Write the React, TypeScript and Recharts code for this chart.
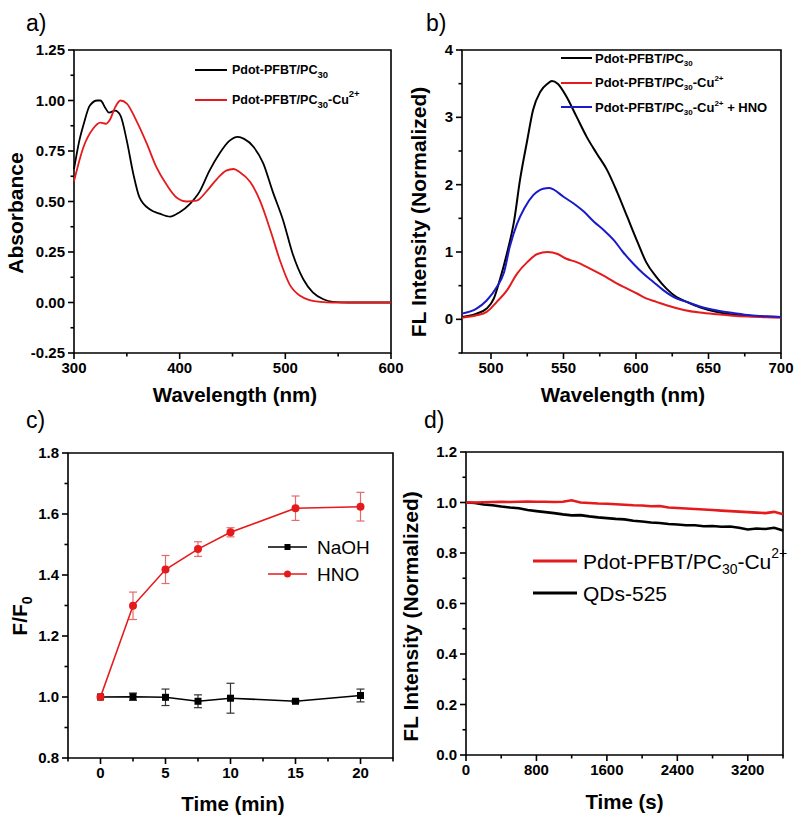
import React from 'react';
import { LineChart, Line, XAxis, YAxis, ReferenceArea, Legend, ErrorBar } from 'recharts';

const FONT = '"Liberation Sans", Arial, Helvetica, sans-serif';
const RED = '#e41a1c';
const BLUE = '#1a1ac8';
const BLACK = '#000000';

// a) absorbance spectra
const absWlBlack = [300, 305, 309, 315, 322, 325, 330, 333, 339, 344, 350, 356, 362, 372, 381, 391, 400, 410, 419, 428, 438, 447, 455, 461, 470, 479, 488, 498, 507, 517, 526, 536, 545, 560, 580, 600];
const absBlack = [0.66, 0.8, 0.88, 0.975, 1.0, 1.0, 0.96, 0.94, 0.95, 0.925, 0.8, 0.64, 0.52, 0.46, 0.44, 0.425, 0.447, 0.49, 0.55, 0.65, 0.74, 0.8, 0.82, 0.81, 0.77, 0.69, 0.55, 0.405, 0.24, 0.115, 0.05, 0.016, 0.003, 0, 0, 0];
const absWlRed = [300, 309, 318, 325, 330, 334, 339, 344, 350, 359, 369, 378, 388, 397, 407, 416, 426, 435, 444, 451, 457, 467, 476, 486, 495, 504, 514, 523, 533, 545, 560, 580, 600];
const absRed = [0.6, 0.77, 0.86, 0.89, 0.885, 0.905, 0.967, 1.0, 0.985, 0.9, 0.785, 0.67, 0.58, 0.52, 0.5, 0.504, 0.554, 0.61, 0.653, 0.661, 0.645, 0.595, 0.504, 0.355, 0.207, 0.09, 0.033, 0.012, 0.003, 0, 0, 0, 0];

// b) fluorescence spectra
const flWlBlack = [480, 490, 497, 502, 506, 511, 516, 520, 525, 529, 534, 539, 542, 546, 552, 559, 566, 573, 580, 587, 594, 601, 607, 614, 621, 628, 635, 644, 656, 667, 679, 690, 700];
const flBlack = [0.035, 0.085, 0.16, 0.31, 0.58, 0.98, 1.47, 2.07, 2.66, 3.11, 3.38, 3.5, 3.54, 3.5, 3.31, 3.01, 2.71, 2.46, 2.22, 1.89, 1.52, 1.15, 0.85, 0.63, 0.456, 0.33, 0.26, 0.18, 0.11, 0.07, 0.05, 0.04, 0.035];
const flWlRed = [480, 490, 497, 504, 511, 518, 525, 532, 539, 546, 552, 559, 566, 573, 580, 587, 594, 601, 607, 614, 621, 633, 644, 656, 667, 680, 690, 700];
const flRed = [0.025, 0.06, 0.11, 0.26, 0.43, 0.68, 0.85, 0.97, 1.0, 0.97, 0.9, 0.85, 0.78, 0.7, 0.62, 0.53, 0.456, 0.38, 0.31, 0.26, 0.21, 0.14, 0.1, 0.074, 0.055, 0.04, 0.03, 0.025];
const flWlBlue = [480, 490, 497, 504, 509, 513, 518, 523, 529, 536, 540, 543, 550, 557, 564, 571, 578, 585, 591, 598, 605, 612, 619, 626, 635, 644, 656, 667, 679, 690, 700];
const flBlue = [0.085, 0.16, 0.28, 0.48, 0.7, 1.08, 1.42, 1.65, 1.84, 1.94, 1.95, 1.93, 1.82, 1.72, 1.6, 1.45, 1.32, 1.17, 1.0, 0.83, 0.68, 0.555, 0.43, 0.33, 0.26, 0.19, 0.13, 0.094, 0.06, 0.045, 0.035];

// c) response kinetics
const timeMin = [0, 2.5, 5, 7.5, 10, 15, 20];
const naoh = [1.0, 1.001, 0.999, 0.986, 0.996, 0.986, 1.005];
const naohErr = [0, 0.012, 0.027, 0.021, 0.049, 0.004, 0.021];
const hno = [1.0, 1.299, 1.418, 1.485, 1.54, 1.619, 1.624];
const hnoErr = [0, 0.045, 0.046, 0.024, 0.015, 0.04, 0.047];

// d) photostability
const timeSec = [0, 100, 200, 300, 400, 500, 600, 700, 800, 900, 1000, 1100, 1200, 1300, 1400, 1500, 1600, 1700, 1800, 1900, 2000, 2100, 2200, 2300, 2400, 2500, 2600, 2700, 2800, 2900, 3000, 3100, 3200, 3300, 3400, 3500, 3600];
const pdotStab = [1.0, 1.0, 1.001, 1.002, 1.003, 1.002, 1.003, 1.004, 1.003, 1.003, 1.002, 1.003, 1.009, 1.0, 0.998, 0.996, 0.995, 0.993, 0.991, 0.989, 0.988, 0.985, 0.986, 0.98, 0.978, 0.976, 0.974, 0.972, 0.97, 0.968, 0.966, 0.964, 0.962, 0.96, 0.958, 0.963, 0.953];
const qdStab = [1.0, 0.998, 0.992, 0.989, 0.984, 0.98, 0.977, 0.97, 0.966, 0.962, 0.958, 0.953, 0.949, 0.95, 0.945, 0.941, 0.938, 0.935, 0.933, 0.928, 0.925, 0.921, 0.919, 0.915, 0.913, 0.91, 0.91, 0.906, 0.907, 0.904, 0.905, 0.9, 0.893, 0.897, 0.895, 0.9, 0.889];

const zip = (xs: number[], ys: number[]) => xs.map((x, i) => ({ x, y: ys[i] }));

const kineticRows = timeMin.map((t, i) => ({ t, naoh: naoh[i], naohErr: naohErr[i], hno: hno[i], hnoErr: hnoErr[i] }));
const stabilityRows = timeSec.map((t, i) => ({ t, pdot: pdotStab[i], qd: qdStab[i] }));

const isMajor = (majors: number[], v: number) => majors.some((m) => Math.abs(m - v) < 1e-6);

// custom ticks: long mark + label for majors, short mark for minors
const xTick = (majors: number[], fmt: (v: number) => string) => (p: any) => {
  const v = p.payload.value;
  const major = isMajor(majors, v);
  return (
    <g key={`x-${v}`}>
      <rect x={p.x - 0.8} y={p.y} width={1.6} height={major ? 6 : 3.5} fill={BLACK} />
      {major && (
        <text x={p.x} y={p.y + 20} textAnchor="middle" fontFamily={FONT} fontSize={15} fontWeight="bold" fill={BLACK}>
          {fmt(v)}
        </text>
      )}
    </g>
  );
};

const yTick = (majors: number[], fmt: (v: number) => string) => (p: any) => {
  const v = p.payload.value;
  const major = isMajor(majors, v);
  const len = major ? 6 : 3.5;
  return (
    <g key={`y-${v}`}>
      <rect x={p.x - len} y={p.y - 0.8} width={len} height={1.6} fill={BLACK} />
      {major && (
        <text x={p.x - 9} y={p.y + 5} textAnchor="end" fontFamily={FONT} fontSize={15} fontWeight="bold" fill={BLACK}>
          {fmt(v)}
        </text>
      )}
    </g>
  );
};

const XTitle = ({ viewBox, title, baseY, shiftX = 0 }: any) => (
  <text
    x={viewBox.x + viewBox.width / 2 + shiftX}
    y={viewBox.y + baseY}
    textAnchor="middle"
    fontFamily={FONT}
    fontSize={20.5}
    fontWeight="bold"
    fill={BLACK}
  >
    {title}
  </text>
);

const YTitle = ({ viewBox, title, baseX, shiftY = 0 }: any) => (
  <text
    transform={`translate(${viewBox.x + baseX},${viewBox.y + viewBox.height / 2 + shiftY}) rotate(-90)`}
    textAnchor="middle"
    fontFamily={FONT}
    fontSize={21}
    fontWeight="bold"
    fill={BLACK}
  >
    {title}
  </text>
);

const Sub = ({ size, children }: any) => (
  <span style={{ fontSize: size, position: 'relative', top: size * 0.4, lineHeight: 0 }}>{children}</span>
);
const Sup = ({ size, children }: any) => (
  <span style={{ fontSize: size, position: 'relative', top: -size * 0.75, lineHeight: 0 }}>{children}</span>
);

type Item = { color: string; label: React.ReactNode; marker?: 'square' | 'circle' };

const LegendRows = ({ items, rowH, lineLen, lineW, gap, fontSize, weight }: any) => (
  <div style={{ fontFamily: FONT, fontSize, fontWeight: weight, color: BLACK }}>
    {items.map((it: Item, i: number) => (
      <div key={i} style={{ display: 'flex', alignItems: 'center', height: rowH, whiteSpace: 'nowrap' }}>
        <svg width={lineLen} height={12} style={{ marginRight: gap, flex: 'none' }}>
          <line x1={0} y1={6} x2={lineLen} y2={6} stroke={it.color} strokeWidth={lineW} />
          {it.marker === 'square' && <rect x={lineLen / 2 - 3} y={3} width={6} height={6} fill={it.color} />}
          {it.marker === 'circle' && <circle cx={lineLen / 2} cy={6} r={3.5} fill={it.color} />}
        </svg>
        <span style={{ lineHeight: 1 }}>{it.label}</span>
      </div>
    ))}
  </div>
);

const pc30 = (s: number) => (
  <>
    Pdot-PFBT/PC<Sub size={s}>30</Sub>
  </>
);
const pc30Cu = (s: number) => (
  <>
    Pdot-PFBT/PC<Sub size={s}>30</Sub>-Cu<Sup size={s}>2+</Sup>
  </>
);

const legendA: Item[] = [
  { color: BLACK, label: pc30(9.5) },
  { color: RED, label: pc30Cu(9.5) },
];
const legendB: Item[] = [
  { color: BLACK, label: pc30(8) },
  { color: RED, label: pc30Cu(8) },
  { color: BLUE, label: <>{pc30Cu(8)} + HNO</> },
];
const legendC: Item[] = [
  { color: BLACK, label: 'NaOH', marker: 'square' },
  { color: RED, label: 'HNO', marker: 'circle' },
];
const legendD: Item[] = [
  { color: RED, label: pc30Cu(14) },
  { color: BLACK, label: 'QDs-525' },
];

const frame = { fill: 'none', stroke: BLACK, strokeWidth: 1.6, ifOverflow: 'visible' as const };

const SquareDot = (p: any) => <rect key={`s-${p.index}`} x={p.cx - 3.5} y={p.cy - 3.5} width={7} height={7} fill={BLACK} />;
const CircleDot = (p: any) => <circle key={`c-${p.index}`} cx={p.cx} cy={p.cy} r={4} fill={RED} />;

export default function App() {
  return (
    <div style={{ position: 'fixed', left: 0, top: 0, width: 800, height: 821, background: '#fff' }}>
      {/* a) */}
      <div style={{ position: 'absolute', left: 0, top: 0 }}>
        <LineChart width={420} height={410} margin={{ top: 50, right: 29, bottom: 0, left: 0 }}>
          <XAxis
            type="number"
            dataKey="x"
            domain={[300, 600]}
            ticks={[300, 350, 400, 450, 500, 550, 600]}
            interval={0}
            tick={xTick([300, 400, 500, 600], (v) => String(v))}
            tickLine={false}
            tickSize={0}
            tickMargin={0}
            axisLine={false}
            height={57}
            label={<XTitle title="Wavelength (nm)" baseY={49} shiftX={2.5} />}
          />
          <YAxis
            type="number"
            domain={[-0.25, 1.25]}
            ticks={[-0.25, -0.125, 0, 0.125, 0.25, 0.375, 0.5, 0.625, 0.75, 0.875, 1, 1.125, 1.25]}
            interval={0}
            tick={yTick([-0.25, 0, 0.25, 0.5, 0.75, 1, 1.25], (v) => v.toFixed(2))}
            tickLine={false}
            tickSize={0}
            tickMargin={0}
            axisLine={false}
            width={74}
            label={<YTitle title="Absorbance" baseX={23} shiftY={11.5} />}
          />
          <ReferenceArea x1={300} x2={600} y1={-0.25} y2={1.25} {...frame} />
          <Line data={zip(absWlBlack, absBlack)} dataKey="y" type="monotone" stroke={BLACK} strokeWidth={1.8} dot={false} isAnimationActive={false} />
          <Line data={zip(absWlRed, absRed)} dataKey="y" type="monotone" stroke={RED} strokeWidth={1.8} dot={false} isAnimationActive={false} />
          <Legend
            layout="vertical"
            align="center"
            verticalAlign="middle"
            wrapperStyle={{ left: 195, top: 55, width: 'auto' }}
            content={() => <LegendRows items={legendA} rowH={30} lineLen={32} lineW={2} gap={5} fontSize={12.5} weight="bold" />}
          />
        </LineChart>
      </div>

      {/* b) */}
      <div style={{ position: 'absolute', left: 400, top: 0 }}>
        <LineChart width={400} height={410} margin={{ top: 50, right: 19, bottom: 0, left: 0 }}>
          <XAxis
            type="number"
            dataKey="x"
            domain={[480, 700]}
            ticks={[500, 525, 550, 575, 600, 625, 650, 675, 700]}
            interval={0}
            tick={xTick([500, 550, 600, 650, 700], (v) => String(v))}
            tickLine={false}
            tickSize={0}
            tickMargin={0}
            axisLine={false}
            height={57}
            label={<XTitle title="Wavelength (nm)" baseY={49} shiftX={1.5} />}
          />
          <YAxis
            type="number"
            domain={[-0.5, 4]}
            ticks={[-0.5, 0, 0.5, 1, 1.5, 2, 2.5, 3, 3.5, 4]}
            interval={0}
            tick={yTick([0, 1, 2, 3, 4], (v) => String(v))}
            tickLine={false}
            tickSize={0}
            tickMargin={0}
            axisLine={false}
            width={62}
            label={<YTitle title="FL Intensity (Normalized)" baseX={26} shiftY={10.5} />}
          />
          <ReferenceArea x1={480} x2={700} y1={-0.5} y2={4} {...frame} />
          <Line data={zip(flWlBlack, flBlack)} dataKey="y" type="monotone" stroke={BLACK} strokeWidth={2} dot={false} isAnimationActive={false} />
          <Line data={zip(flWlRed, flRed)} dataKey="y" type="monotone" stroke={RED} strokeWidth={2} dot={false} isAnimationActive={false} />
          <Line data={zip(flWlBlue, flBlue)} dataKey="y" type="monotone" stroke={BLUE} strokeWidth={2} dot={false} isAnimationActive={false} />
          <Legend
            layout="vertical"
            align="center"
            verticalAlign="middle"
            wrapperStyle={{ left: 161, top: 46, width: 'auto' }}
            content={() => <LegendRows items={legendB} rowH={24.5} lineLen={31} lineW={2} gap={3} fontSize={13} weight="bold" />}
          />
        </LineChart>
      </div>

      {/* c) */}
      <div style={{ position: 'absolute', left: 0, top: 410 }}>
        <LineChart width={400} height={411} data={kineticRows} margin={{ top: 43, right: 7, bottom: 0, left: 0 }}>
          <XAxis
            type="number"
            dataKey="t"
            domain={[-2.5, 22.5]}
            ticks={[-2.5, 0, 2.5, 5, 7.5, 10, 12.5, 15, 17.5, 20, 22.5]}
            interval={0}
            tick={xTick([0, 5, 10, 15, 20], (v) => String(v))}
            tickLine={false}
            tickSize={0}
            tickMargin={0}
            axisLine={false}
            height={63}
            label={<XTitle title="Time (min)" baseY={53} shiftX={2.5} />}
          />
          <YAxis
            type="number"
            domain={[0.8, 1.8]}
            ticks={[0.8, 0.9, 1.0, 1.1, 1.2, 1.3, 1.4, 1.5, 1.6, 1.7, 1.8]}
            interval={0}
            tick={yTick([0.8, 1.0, 1.2, 1.4, 1.6, 1.8], (v) => v.toFixed(1))}
            tickLine={false}
            tickSize={0}
            tickMargin={0}
            axisLine={false}
            width={68}
            label={
              <YTitle
                title={
                  <>
                    F/F
                    <tspan fontSize={14} dy={5}>
                      0
                    </tspan>
                  </>
                }
                baseX={27}
                shiftY={10.5}
              />
            }
          />
          <ReferenceArea x1={-2.5} x2={22.5} y1={0.8} y2={1.8} {...frame} />
          <Line dataKey="naoh" type="linear" stroke={BLACK} strokeWidth={1.6} dot={SquareDot} isAnimationActive={false}>
            <ErrorBar dataKey="naohErr" direction="y" width={4} stroke={'#333'} strokeWidth={1.2} isAnimationActive={false} />
          </Line>
          <Line dataKey="hno" type="linear" stroke={RED} strokeWidth={1.6} dot={CircleDot} isAnimationActive={false}>
            <ErrorBar dataKey="hnoErr" direction="y" width={4} stroke={'#e56a6a'} strokeWidth={1.2} isAnimationActive={false} />
          </Line>
          <Legend
            layout="vertical"
            align="center"
            verticalAlign="middle"
            wrapperStyle={{ left: 268, top: 123.5, width: 'auto' }}
            content={() => <LegendRows items={legendC} rowH={27} lineLen={39} lineW={1.6} gap={10} fontSize={19} weight="normal" />}
          />
        </LineChart>
      </div>

      {/* d) */}
      <div style={{ position: 'absolute', left: 400, top: 410 }}>
        <LineChart width={400} height={411} data={stabilityRows} margin={{ top: 42, right: 17, bottom: 0, left: 0 }}>
          <XAxis
            type="number"
            dataKey="t"
            domain={[0, 3600]}
            ticks={[0, 400, 800, 1200, 1600, 2000, 2400, 2800, 3200, 3600]}
            interval={0}
            tick={xTick([0, 800, 1600, 2400, 3200], (v) => String(v))}
            tickLine={false}
            tickSize={0}
            tickMargin={0}
            axisLine={false}
            height={66}
            label={<XTitle title="Time (s)" baseY={54} />}
          />
          <YAxis
            type="number"
            domain={[0, 1.2]}
            ticks={[0, 0.1, 0.2, 0.3, 0.4, 0.5, 0.6, 0.7, 0.8, 0.9, 1.0, 1.1, 1.2]}
            interval={0}
            tick={yTick([0, 0.2, 0.4, 0.6, 0.8, 1.0, 1.2], (v) => v.toFixed(1))}
            tickLine={false}
            tickSize={0}
            tickMargin={0}
            axisLine={false}
            width={66}
            label={<YTitle title="FL Intensity (Normalized)" baseX={18} shiftY={13} />}
          />
          <ReferenceArea x1={0} x2={3600} y1={0} y2={1.2} {...frame} />
          <Line dataKey="qd" type="linear" stroke={BLACK} strokeWidth={2.6} dot={false} isAnimationActive={false} />
          <Line dataKey="pdot" type="linear" stroke={RED} strokeWidth={2.6} dot={false} isAnimationActive={false} />
          <Legend
            layout="vertical"
            align="center"
            verticalAlign="middle"
            wrapperStyle={{ left: 133, top: 135, width: 'auto' }}
            content={() => <LegendRows items={legendD} rowH={32} lineLen={44} lineW={3} gap={6} fontSize={21} weight="normal" />}
          />
        </LineChart>
      </div>

      <svg width={800} height={821} style={{ position: 'absolute', left: 0, top: 0, pointerEvents: 'none' }}>
        <g fontFamily={FONT} fontSize={23} fill={BLACK}>
          <text x={26} y={31}>a)</text>
          <text x={426} y={31}>b)</text>
          <text x={26} y={428}>c)</text>
          <text x={424} y={428}>d)</text>
        </g>
      </svg>
    </div>
  );
}
